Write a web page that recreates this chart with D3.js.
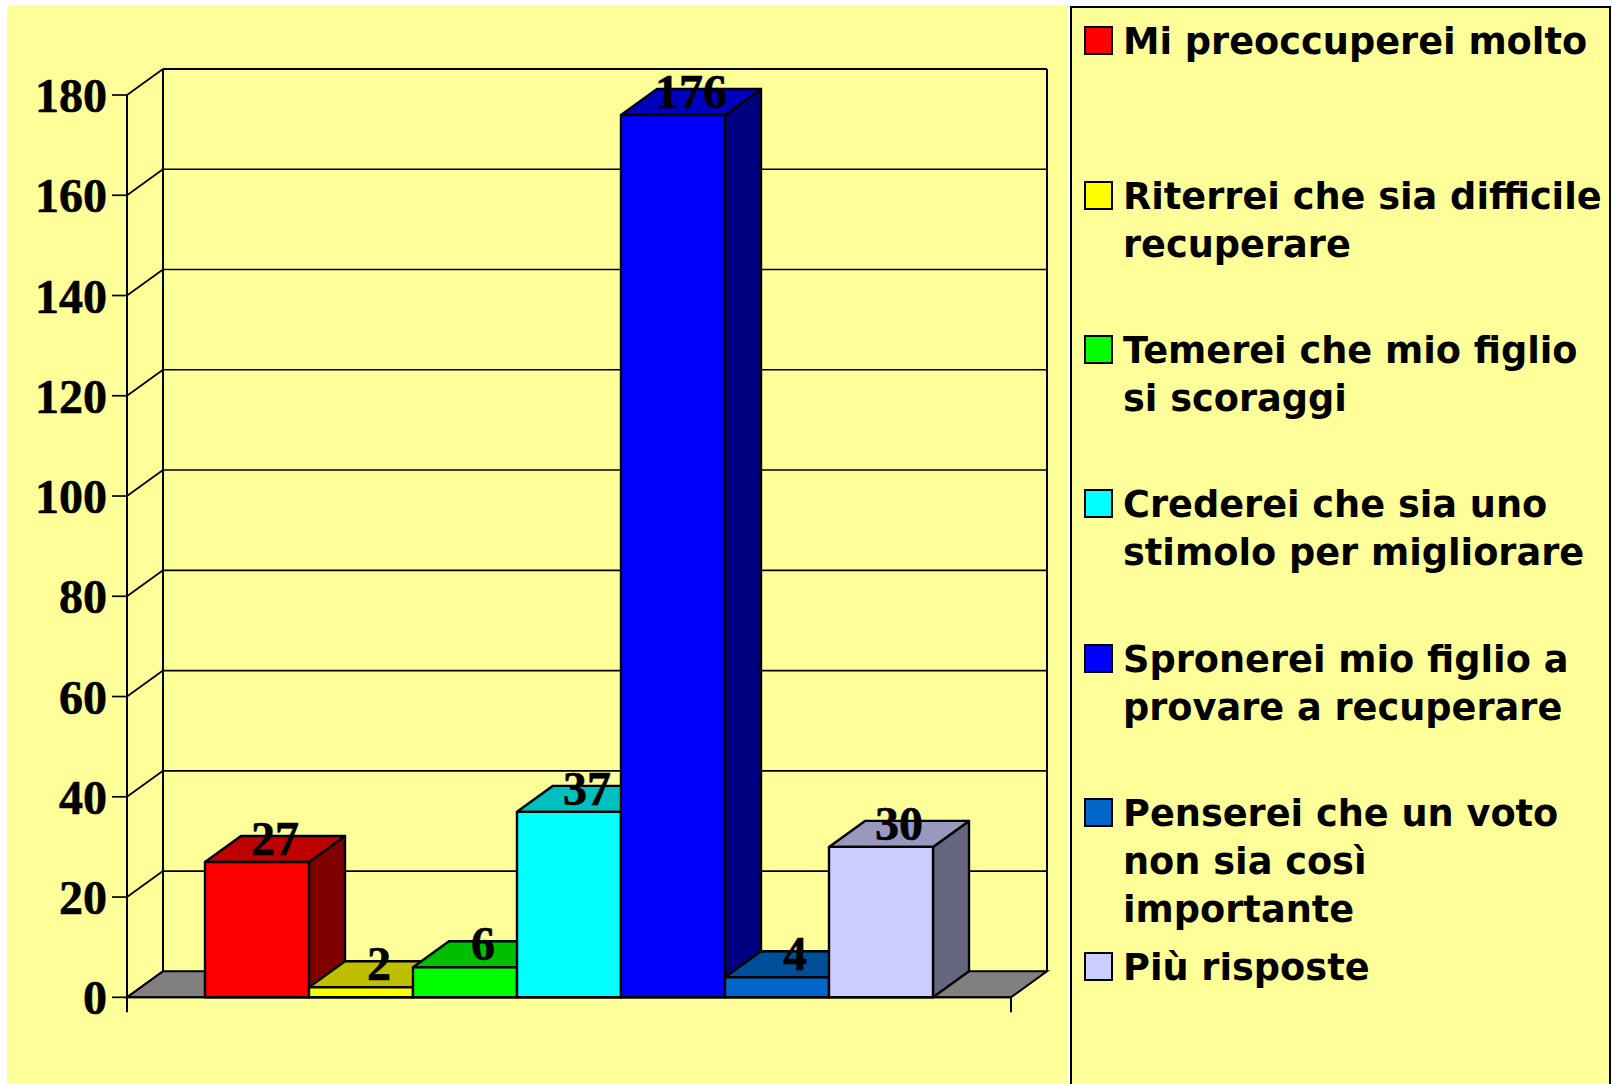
<!DOCTYPE html>
<html>
<head>
<meta charset="utf-8">
<script src="https://cdn.jsdelivr.net/npm/d3@7"></script>
<style>
  html, body { margin: 0; padding: 0; background: #fff; }
  svg { display: block; }
</style>
</head>
<body>
<div id="chart"></div>
<script>
const categories = ["Mi preoccuperei molto", "Riterrei che sia difficile recuperare", "Temerei che mio figlio si scoraggi",
  "Crederei che sia uno stimolo per migliorare", "Spronerei mio figlio a provare a recuperare",
  "Penserei che un voto non sia così importante", "Più risposte"];
const values = [27, 2, 6, 37, 176, 4, 30];
const frontColors = ["#ff0000", "#ffff00", "#00ff00", "#00ffff", "#0000ff", "#0066cc", "#ccccff"];
const yTicks = [0, 20, 40, 60, 80, 100, 120, 140, 160, 180];
const legendLines = [["Mi preoccuperei molto"], ["Riterrei che sia difficile", "recuperare"], ["Temerei che mio figlio", "si scoraggi"],
  ["Crederei che sia uno", "stimolo per migliorare"], ["Spronerei mio figlio a", "provare a recuperare"],
  ["Penserei che un voto", "non sia così", "importante"], ["Più risposte"]];
const legendY = [40, 195, 349, 503, 658, 812, 966];

const width = 1612, height = 1084;
const depthX = 36, depthY = -26;
const left = 127, right = 1011;

const svg = d3.select("#chart").append("svg").attr("width", width).attr("height", height);

// background panels
svg.append("rect").attr("x", 7).attr("y", 5).attr("width", 1061).attr("height", height - 5).attr("fill", "#ffff99");
svg.append("rect").attr("x", 1071).attr("y", 7).attr("width", 539).attr("height", height).attr("fill", "#ffff99")
  .attr("stroke", "#000").attr("stroke-width", 2);

const x = d3.scaleBand().domain(d3.range(values.length)).range([left, right]).paddingInner(0).paddingOuter(0.75);
const y = d3.scaleLinear().domain([0, 180]).range([997.3, 95]);

const poly = pts => pts.map(p => p.join(",")).join(" ");

// floor
svg.append("polygon")
  .attr("points", poly([[left, y(0)], [left + depthX, y(0) + depthY], [right + depthX, y(0) + depthY], [right, y(0)]]))
  .attr("fill", "#808080").attr("stroke", "#000").attr("stroke-width", 2);

// walls and gridlines
const grid = svg.append("g").attr("stroke", "#000").attr("stroke-width", 1.7).attr("fill", "none");
yTicks.forEach(t => {
  if (t > 0) {
    grid.append("line").attr("x1", left + depthX).attr("x2", right + depthX).attr("y1", y(t) + depthY).attr("y2", y(t) + depthY)
      .attr("stroke-width", t === 180 ? 2 : 1.7);
  }
  grid.append("line").attr("x1", left).attr("y1", y(t)).attr("x2", left + depthX).attr("y2", y(t) + depthY);
  grid.append("line").attr("x1", left - 15).attr("x2", left).attr("y1", y(t)).attr("y2", y(t));
});
grid.append("line").attr("x1", left).attr("x2", left).attr("y1", y(180)).attr("y2", y(0) + 15).attr("stroke-width", 2);
grid.append("line").attr("x1", left + depthX).attr("x2", left + depthX).attr("y1", y(180) + depthY).attr("y2", y(0) + depthY).attr("stroke-width", 2);
grid.append("line").attr("x1", right + depthX).attr("x2", right + depthX).attr("y1", y(180) + depthY).attr("y2", y(0) + depthY).attr("stroke-width", 2);
grid.append("line").attr("x1", right).attr("x2", right).attr("y1", y(0)).attr("y2", y(0) + 15).attr("stroke-width", 2);
grid.append("line").attr("x1", left).attr("x2", right).attr("y1", y(0)).attr("y2", y(0)).attr("stroke-width", 2);

// y tick labels
svg.append("g").selectAll("text").data(yTicks).enter().append("text")
  .attr("x", 107).attr("y", d => y(d) + 17)
  .attr("text-anchor", "end")
  .attr("font-family", "'Liberation Serif', serif").attr("font-weight", "bold").attr("font-size", 48)
  .attr("stroke", "#000").attr("stroke-width", 0.6)
  .text(d => d);

// bars, painted left to right so each one overlaps the previous
const bars = svg.append("g").attr("stroke", "#000").attr("stroke-width", 2.4).attr("stroke-linejoin", "round");
values.forEach((v, i) => {
  const x0 = x(i), x1 = x0 + x.bandwidth(), yt = y(v), yb = y(0);
  const c = d3.color(frontColors[i]);
  const scaleColor = k => d3.rgb(c.r * k, c.g * k, c.b * k).formatHex();
  bars.append("polygon").attr("fill", scaleColor(0.5))
    .attr("points", poly([[x1, yb], [x1 + depthX, yb + depthY], [x1 + depthX, yt + depthY], [x1, yt]]));
  bars.append("polygon").attr("fill", scaleColor(0.75))
    .attr("points", poly([[x0, yt], [x0 + depthX, yt + depthY], [x1 + depthX, yt + depthY], [x1, yt]]));
  bars.append("rect").attr("x", x0).attr("y", yt).attr("width", x.bandwidth()).attr("height", yb - yt).attr("fill", frontColors[i]);
});

// value labels
svg.append("g").selectAll("text").data(values).enter().append("text")
  .attr("x", (d, i) => x(i) + x.bandwidth() / 2 + depthX / 2)
  .attr("y", d => y(d) - 7)
  .attr("text-anchor", "middle")
  .attr("font-family", "'Liberation Serif', serif").attr("font-weight", "bold").attr("font-size", 48)
  .attr("stroke", "#000").attr("stroke-width", 0.6)
  .text(d => d);

// legend
const legend = svg.append("g").selectAll("g").data(categories).enter().append("g")
  .attr("transform", (d, i) => `translate(0,${legendY[i]})`);
legend.append("rect").attr("x", 1085).attr("y", -13).attr("width", 27).attr("height", 27)
  .attr("fill", (d, i) => frontColors[i]).attr("stroke", "#000").attr("stroke-width", 2);
legend.each(function (d, i) {
  legendLines[i].forEach((line, j) => {
    d3.select(this).append("text")
      .attr("x", 1123).attr("y", 13.5 + j * 48)
      .attr("font-family", "'DejaVu Sans', sans-serif").attr("font-weight", "bold").attr("font-size", 36.7)
      .text(line);
  });
});
</script>
</body>
</html>
